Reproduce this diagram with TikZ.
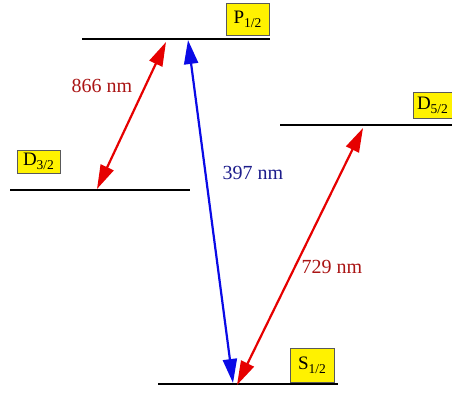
\documentclass[tikz,border=0pt]{standalone}
\usepackage{fontspec}
\setmainfont{Liberation Serif}
\usetikzlibrary{arrows.meta}
\definecolor{arrred}{RGB}{230,0,0}
\definecolor{arrblue}{RGB}{10,10,230}
\definecolor{txtred}{RGB}{170,20,20}
\definecolor{txtblue}{RGB}{30,30,140}
\newcommand{\stt}[2]{#1\raisebox{-4pt}{\fontsize{13.5}{13.5}\selectfont #2}}
\begin{document}
\begin{tikzpicture}[x=1pt,y=-1pt,
  level/.style={line width=2.2pt},
  lbl/.style={draw=black!65, fill=yellow, line width=0.6pt, inner sep=0pt, font=\fontsize{19}{19}\selectfont},
  trans/.style={line width=2.2pt, {Triangle[length=24pt,width=14pt]}-{Triangle[length=24pt,width=14pt]}},
  wl/.style={font=\fontsize{20}{20}\selectfont, inner sep=0pt}]
\useasboundingbox (0,0) rectangle (452,392);
% levels
\coordinate (pl) at (82,39);  \coordinate (pr) at (270,39);
\coordinate (dl) at (10,190); \coordinate (dr) at (190,190);
\coordinate (fl) at (280,125); \coordinate (fr) at (452,125);
\coordinate (sl) at (158,384); \coordinate (sr) at (338,384);
\draw[level] (pl) -- (pr);
\draw[level] (dl) -- (dr);
\draw[level] (fl) -- (fr);
\draw[level] (sl) -- (sr);
% labels
\node[lbl, minimum width=43pt, minimum height=32pt] (P) at (247.5,19) {\stt{P}{1/2}};
\node[lbl, minimum width=43pt, minimum height=23pt] (D3) at (38.5,161.5) {\stt{D}{3/2}};
\node[lbl, minimum width=39pt, minimum height=26pt] (D5) at (432.5,105) {\stt{D}{5/2}};
\node[lbl, minimum width=44pt, minimum height=34pt] (S) at (312,365) {\stt{S}{1/2}};
% transitions
\coordinate (a1) at (97,189); \coordinate (a2) at (166,42);
\coordinate (b1) at (188,40); \coordinate (b2) at (233,383);
\coordinate (c1) at (363,128); \coordinate (c2) at (237,385);
\draw[trans, arrred] (a1) -- (a2);
\draw[trans, arrblue] (b1) -- (b2);
\draw[trans, arrred] (c2) -- (c1);
% wavelength labels
\node[wl, text=txtred] (w866) at (102,86) {866 nm};
\node[wl, text=txtblue] (w397) at (253,173) {397 nm};
\node[wl, text=txtred] (w729) at (332,267) {729 nm};
\end{tikzpicture}
\end{document}
